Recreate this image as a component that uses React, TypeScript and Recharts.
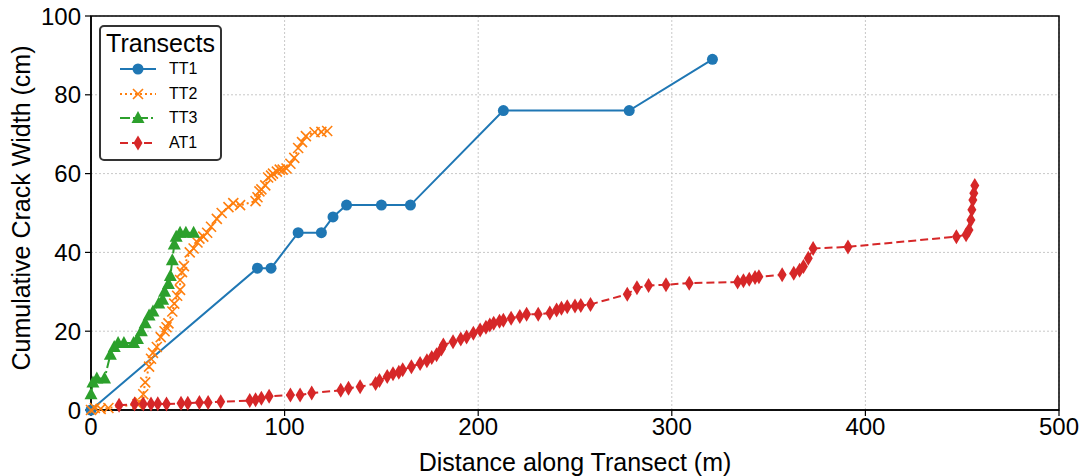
import React from "react";
import { LineChart, Line, XAxis, YAxis, CartesianGrid, ReferenceArea } from "recharts";

document.body.style.margin = "0";

const COLORS = {
  tt1: "#1f77b4",
  tt2: "#ff7f0e",
  tt3: "#2ca02c",
  at1: "#d62728",
};

// [distance (m), cumulative width (cm)]
const TT1: number[][] = [
  [0, 0], [86, 36], [93, 36], [107, 45], [119, 45], [125, 49], [132, 52],
  [150, 52], [165, 52], [213, 76], [278, 76], [321, 89],
];

const TT2: number[][] = [
  [0, 0], [2, 0.5], [5, 0.3], [9, 0.5], [24, 1.5], [25, 2], [27, 4], [28, 7],
  [30, 11], [31, 13], [32, 14.5], [34, 16], [36, 18.5], [38, 20], [39, 21],
  [40, 22], [42, 25], [43, 27], [44.5, 29], [46, 30.5], [46, 33], [47, 35],
  [48, 36.5], [51, 40], [53, 41], [55, 42.5], [56, 43.5], [58, 44], [60, 45],
  [62, 46.5], [65, 48.5], [67.5, 50], [71, 51.5], [73.5, 52.5], [77, 52],
  [85, 53], [86, 54], [87, 55.5], [88, 56], [90, 57], [91.5, 59], [93, 59.5],
  [94, 60], [96, 60.5], [97.5, 61], [99, 61], [101, 61.3], [103, 62.5],
  [105, 64], [107, 66.5], [109, 68], [111, 69.5], [115.5, 70.5], [119, 70.6],
  [122, 70.8],
];

const TT3: number[][] = [
  [0, 4], [1, 7], [3, 8], [7, 8], [10, 14], [12, 16], [14, 17], [17, 17],
  [22, 17], [24, 18], [26, 20], [28, 22], [30, 24], [32, 25], [35, 27],
  [37, 28], [38, 30], [40, 32], [41, 34], [42, 38], [43, 42], [44, 44],
  [46, 45], [49, 45], [53, 45],
];

const AT1: number[][] = [
  [14.5, 1.2], [22.5, 1.5], [27, 1.5], [31, 1.5], [34.5, 1.6], [39, 1.5],
  [46.5, 1.7], [50, 1.7], [56, 1.9], [60.5, 1.9], [67, 2.1], [82, 2.4],
  [85, 2.6], [88, 3], [92, 3.5], [103, 3.8], [108, 3.8], [114, 4.3], [129, 5],
  [133, 5.5], [139, 5.9], [147, 6.7], [149, 7.5], [153, 8.5], [156, 9.2],
  [159, 9.6], [161, 10.2], [165.5, 11], [170, 11.8], [173.5, 12.5], [176, 13.3],
  [178.5, 14], [181, 15.5], [182, 16.5], [187, 17.3], [191, 18], [194, 18.5],
  [197.5, 19.5], [201, 20.3], [204, 21], [206, 21.6], [208, 22], [211, 22.5],
  [213, 22.8], [217, 23.3], [221.5, 23.7], [225, 24.3], [231, 24.3],
  [237, 24.6], [240.5, 25.4], [243, 25.8], [246, 26.2], [250, 26.4],
  [253, 26.5], [258, 26.8], [277, 29.4], [282, 31], [288, 31.6], [297, 31.8],
  [309, 32.2], [334, 32.5], [337, 32.8], [340, 33.2], [343, 33.6], [345, 33.8],
  [357, 34.3], [363, 34.7], [366, 35.5], [368, 36.4], [370.5, 38.5], [373, 41],
  [391, 41.4], [447, 44], [452, 44.5], [453.5, 45.7], [454.5, 48.2], [455, 50.8],
  [455.5, 53.3], [456, 55], [456.5, 57],
];

const X_TICKS = [0, 100, 200, 300, 400, 500];
const Y_TICKS = [0, 20, 40, 60, 80, 100];

const toPts = (arr: number[][]) => arr.map(([x, y]) => ({ x, y }));

const FONT = "'Liberation Sans', Arial, sans-serif";

function marker(kind: string, cx: number, cy: number, color: string, key?: any) {
  if (cx == null || cy == null) return <g key={key} />;
  if (kind === "circle") return <circle key={key} cx={cx} cy={cy} r={5.5} fill={color} />;
  if (kind === "x")
    return (
      <path
        key={key}
        d={`M${cx - 5},${cy - 5}L${cx + 5},${cy + 5}M${cx - 5},${cy + 5}L${cx + 5},${cy - 5}`}
        stroke={color}
        strokeWidth={1.6}
        fill="none"
      />
    );
  if (kind === "tri")
    return (
      <path key={key} d={`M${cx},${cy - 7}L${cx + 6.5},${cy + 5}L${cx - 6.5},${cy + 5}Z`} fill={color} />
    );
  return (
    <path key={key} d={`M${cx},${cy - 7.5}L${cx + 4.5},${cy}L${cx},${cy + 7.5}L${cx - 4.5},${cy}Z`} fill={color} />
  );
}

const SERIES = [
  { name: "TT1", data: TT1, color: COLORS.tt1, kind: "circle", dash: undefined },
  { name: "TT2", data: TT2, color: COLORS.tt2, kind: "x", dash: "2 3" },
  { name: "TT3", data: TT3, color: COLORS.tt3, kind: "tri", dash: "10 3 2 3" },
  { name: "AT1", data: AT1, color: COLORS.at1, kind: "diamond", dash: "8 4" },
];

function LegendBox() {
  return (
    <div
      style={{
        position: "absolute",
        left: 99,
        top: 25,
        width: 119,
        height: 132,
        border: "2px solid #333",
        borderRadius: 5,
        background: "#fff",
        fontFamily: FONT,
        boxSizing: "content-box",
      }}
    >
      <div style={{ fontSize: 25, textAlign: "center", marginTop: 2, lineHeight: "28px" }}>Transects</div>
      {SERIES.map((s) => (
        <div key={s.name} style={{ display: "flex", alignItems: "center", height: 24.5 }}>
          <svg width={40} height={20} style={{ marginLeft: 17 }}>
            <line x1={2} y1={10} x2={38} y2={10} stroke={s.color} strokeWidth={2} strokeDasharray={s.dash} />
            {marker(s.kind, 20, 10, s.color)}
          </svg>
          <span style={{ fontSize: 16, marginLeft: 11 }}>{s.name}</span>
        </div>
      ))}
    </div>
  );
}

export default function App() {
  return (
    <div style={{ position: "relative", width: 1084, height: 476, background: "#fff" }}>
      <LineChart width={1084} height={476} margin={{ top: 16, right: 25, bottom: 0, left: 0 }}>
        <CartesianGrid stroke="#c8c8c8" strokeDasharray="2 2" />
        <XAxis
          type="number"
          dataKey="x"
          domain={[0, 500]}
          ticks={X_TICKS}
          height={66}
          tickSize={6}
          tickMargin={2}
          tickLine={{ stroke: "#000", strokeWidth: 1.2 }}
          axisLine={{ stroke: "#000", strokeWidth: 1.5 }}
          tick={{ fill: "#000", fontSize: 24, fontFamily: FONT }}
          label={{
            value: "Distance along Transect (m)",
            position: "center",
            dy: 19,
            style: { fill: "#000", fontSize: 25, fontFamily: FONT },
          }}
        />
        <YAxis
          type="number"
          domain={[0, 100]}
          ticks={Y_TICKS}
          width={91}
          tickSize={6}
          tickMargin={4}
          tickLine={{ stroke: "#000", strokeWidth: 1.2 }}
          axisLine={{ stroke: "#000", strokeWidth: 1.5 }}
          tick={{ fill: "#000", fontSize: 24, fontFamily: FONT }}
          label={{
            value: "Cumulative Crack Width (cm)",
            angle: -90,
            position: "center",
            dx: -24,
            dy: -5,
            style: { fill: "#000", fontSize: 25, fontFamily: FONT, textAnchor: "middle" },
          }}
        />
        <ReferenceArea x1={0} x2={500} y1={0} y2={100} fill="none" stroke="#000" strokeWidth={1.5} />
        {SERIES.map((s) => (
          <Line
            key={s.name}
            name={s.name}
            data={toPts(s.data)}
            dataKey="y"
            type="linear"
            stroke={s.color}
            strokeWidth={2}
            strokeDasharray={s.dash}
            isAnimationActive={false}
            activeDot={false}
            dot={(p: any) => marker(s.kind, p.cx, p.cy, s.color, `${s.name}-${p.index}`)}
          />
        ))}
      </LineChart>
      <LegendBox />
    </div>
  );
}
